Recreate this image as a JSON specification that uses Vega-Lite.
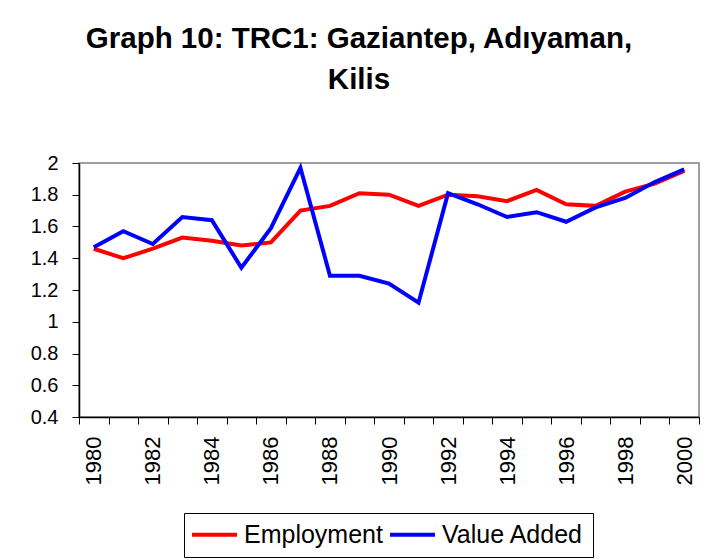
{
  "$schema": "https://vega.github.io/schema/vega-lite/v6.json",
  "width": 620,
  "height": 254,
  "autosize": {"type": "none"},
  "padding": {"left": 79, "top": 163, "right": 9, "bottom": 143},
  "background": "white",
  "title": {
    "text": ["Graph 10: TRC1: Gaziantep, Adıyaman,", "Kilis"],
    "font": "Liberation Sans",
    "fontSize": 29.5,
    "fontWeight": "bold",
    "color": "black",
    "anchor": "middle",
    "frame": "group",
    "dx": -30,
    "baseline": "bottom",
    "lineHeight": 41,
    "offset": 29
  },
  "data": {
    "values": [
      {"year": "1980", "series": "Employment", "value": 1.46},
      {"year": "1981", "series": "Employment", "value": 1.40},
      {"year": "1982", "series": "Employment", "value": 1.46},
      {"year": "1983", "series": "Employment", "value": 1.53},
      {"year": "1984", "series": "Employment", "value": 1.51},
      {"year": "1985", "series": "Employment", "value": 1.48},
      {"year": "1986", "series": "Employment", "value": 1.50},
      {"year": "1987", "series": "Employment", "value": 1.70},
      {"year": "1988", "series": "Employment", "value": 1.73},
      {"year": "1989", "series": "Employment", "value": 1.81},
      {"year": "1990", "series": "Employment", "value": 1.80},
      {"year": "1991", "series": "Employment", "value": 1.73},
      {"year": "1992", "series": "Employment", "value": 1.80},
      {"year": "1993", "series": "Employment", "value": 1.79},
      {"year": "1994", "series": "Employment", "value": 1.76},
      {"year": "1995", "series": "Employment", "value": 1.83},
      {"year": "1996", "series": "Employment", "value": 1.74},
      {"year": "1997", "series": "Employment", "value": 1.73},
      {"year": "1998", "series": "Employment", "value": 1.82},
      {"year": "1999", "series": "Employment", "value": 1.87},
      {"year": "2000", "series": "Employment", "value": 1.95},
      {"year": "1980", "series": "Value Added", "value": 1.47},
      {"year": "1981", "series": "Value Added", "value": 1.57},
      {"year": "1982", "series": "Value Added", "value": 1.49},
      {"year": "1983", "series": "Value Added", "value": 1.66},
      {"year": "1984", "series": "Value Added", "value": 1.64},
      {"year": "1985", "series": "Value Added", "value": 1.34},
      {"year": "1986", "series": "Value Added", "value": 1.59},
      {"year": "1987", "series": "Value Added", "value": 1.97},
      {"year": "1988", "series": "Value Added", "value": 1.29},
      {"year": "1989", "series": "Value Added", "value": 1.29},
      {"year": "1990", "series": "Value Added", "value": 1.24},
      {"year": "1991", "series": "Value Added", "value": 1.12},
      {"year": "1992", "series": "Value Added", "value": 1.81},
      {"year": "1993", "series": "Value Added", "value": 1.74},
      {"year": "1994", "series": "Value Added", "value": 1.66},
      {"year": "1995", "series": "Value Added", "value": 1.69},
      {"year": "1996", "series": "Value Added", "value": 1.63},
      {"year": "1997", "series": "Value Added", "value": 1.72},
      {"year": "1998", "series": "Value Added", "value": 1.78},
      {"year": "1999", "series": "Value Added", "value": 1.88},
      {"year": "2000", "series": "Value Added", "value": 1.96}
    ]
  },
  "mark": {"type": "line", "strokeWidth": 4, "strokeJoin": "miter"},
  "encoding": {
    "x": {
      "field": "year",
      "type": "ordinal",
      "scale": {"type": "band", "paddingInner": 0, "paddingOuter": 0},
      "axis": {
        "title": null,
        "tickBand": "extent",
        "labelAngle": -90,
        "labelAlign": "right",
        "labelBaseline": "middle",
        "labelFont": "Liberation Sans",
        "labelFontSize": 22,
        "labelColor": "black",
        "labelPadding": 12,
        "labelExpr": "toNumber(datum.value) % 2 == 0 ? datum.value : ''",
        "tickSize": 7,
        "tickColor": "black",
        "domainColor": "black",
        "domainWidth": 1.5,
        "tickWidth": 1,
        "grid": false
      }
    },
    "y": {
      "field": "value",
      "type": "quantitative",
      "scale": {"domain": [0.4, 2], "nice": false, "zero": false},
      "axis": {
        "title": null,
        "values": [0.4, 0.6, 0.8, 1, 1.2, 1.4, 1.6, 1.8, 2],
        "format": "~g",
        "labelFont": "Liberation Sans",
        "labelFontSize": 20,
        "labelColor": "black",
        "labelPadding": 14,
        "tickSize": 7,
        "tickColor": "black",
        "domainColor": "black",
        "domainWidth": 1.5,
        "grid": false
      }
    },
    "color": {
      "field": "series",
      "type": "nominal",
      "scale": {"domain": ["Employment", "Value Added"], "range": ["#FF0000", "#0000FF"]},
      "legend": {
        "title": null,
        "orient": "none",
        "legendX": 105,
        "legendY": 350,
        "direction": "horizontal",
        "symbolType": "M-1.8,0H4.2",
        "symbolSize": 225,
        "symbolStrokeWidth": 4,
        "labelFont": "Liberation Sans",
        "labelFontSize": 25,
        "labelColor": "black",
        "labelOffset": 26,
        "columnPadding": -1,
        "strokeColor": "black",
        "padding": 9,
        "fillColor": "white"
      }
    }
  },
  "config": {
    "view": {"stroke": "#808080", "strokeWidth": 1.5}
  }
}
